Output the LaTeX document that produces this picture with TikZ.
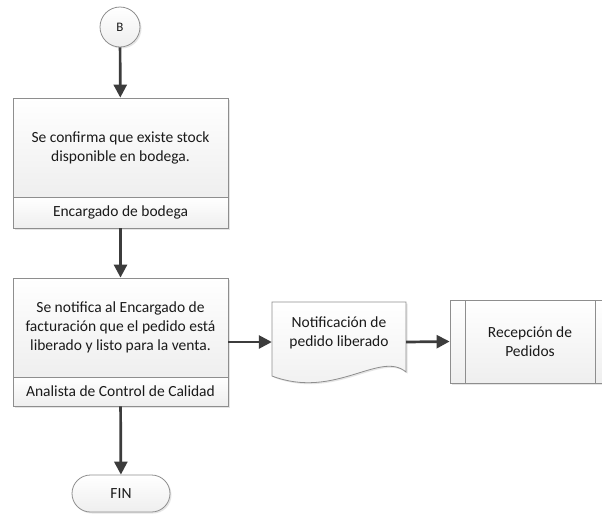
\documentclass[tikz,border=0pt]{standalone}
\usepackage{fontspec}
\setmainfont{Carlito}
\usetikzlibrary{arrows.meta,shapes.misc,shadows}
\definecolor{edgec}{HTML}{8E8E8E}
\definecolor{arrowc}{HTML}{3C3C3C}
\definecolor{txt}{HTML}{1A1A1A}
\begin{document}
\begin{tikzpicture}[x=1pt,y=-1pt,
  every node/.style={font=\fontsize{15.5}{19}\selectfont, text=txt},
  boxpart/.style={draw=edgec, line width=0.8pt, top color=white, bottom color=gray!13,
    rectangle, inner sep=0pt, align=center},
  shad/.style={drop shadow={shadow xshift=1.5pt, shadow yshift=-1.5pt, fill=gray!40, opacity=0.5}},
  flow/.style={draw=arrowc, line width=2.7pt, -{Triangle[length=13pt,width=13pt]}},
]
\fill[white] (0,0) rectangle (602,515);
\useasboundingbox (0,0) rectangle (602,515);

% start connector
\node[circle, draw=edgec, line width=0.8pt, top color=white, bottom color=gray!13, shad,
      minimum size=40pt, inner sep=0pt, font=\fontsize{13}{15}\selectfont] (b) at (120,27) {B};

% box 1
\node[boxpart, shad, minimum width=215pt, minimum height=99pt] (t1) at (120.5,147.5)
  {Se confirma que existe stock\\disponible en bodega.};
\node[boxpart, shad, minimum width=215pt, minimum height=31pt] (r1) at (120.5,212.5)
  {Encargado de bodega};

% box 2
\node[boxpart, shad, minimum width=215pt, minimum height=99pt] (t2) at (120.5,327.5)
  {Se notifica al Encargado de\\facturación que el pedido está\\liberado y listo para la venta.};
\node[boxpart, shad, minimum width=215pt, minimum height=29pt] (r2) at (120.5,391.5)
  {Analista de Control de Calidad};

% document
\node[minimum width=134pt, minimum height=76pt, inner sep=0pt] (doc) at (339,342) {};
\draw[draw=edgec, line width=0.8pt, top color=white, bottom color=gray!13, shad]
  (272,302) -- (406,302) -- (406,372)
  .. controls (380,350) and (335,400) .. (272,376) -- cycle;
\node[align=center] (doctext) at (339,332.5) {Notificación de\\pedido liberado};

% predefined process (cut at right edge)
\node[boxpart, shad, minimum width=162pt, minimum height=83pt] (proc) at (531,341.5) {};
\draw[draw=edgec, line width=0.8pt] (465,300) -- (465,383);
\draw[draw=edgec, line width=0.8pt] (595,300) -- (595,383);
\node[align=center] (proctext) at (530,341.5) {Recepción de\\Pedidos};

% terminator
\node[boxpart, shad, rounded rectangle, minimum width=98pt, minimum height=37pt] (fin) at (121,493.5) {FIN};

% connectors
\draw[flow] (b) -- (t1);
\draw[flow] (r1) -- (t2);
\draw[flow] (r2) -- (fin);
\draw[flow] (t2.east |- doc.west) -- (doc.west);
\draw[flow] (doc.east) -- (proc.west);
\end{tikzpicture}
\end{document}
